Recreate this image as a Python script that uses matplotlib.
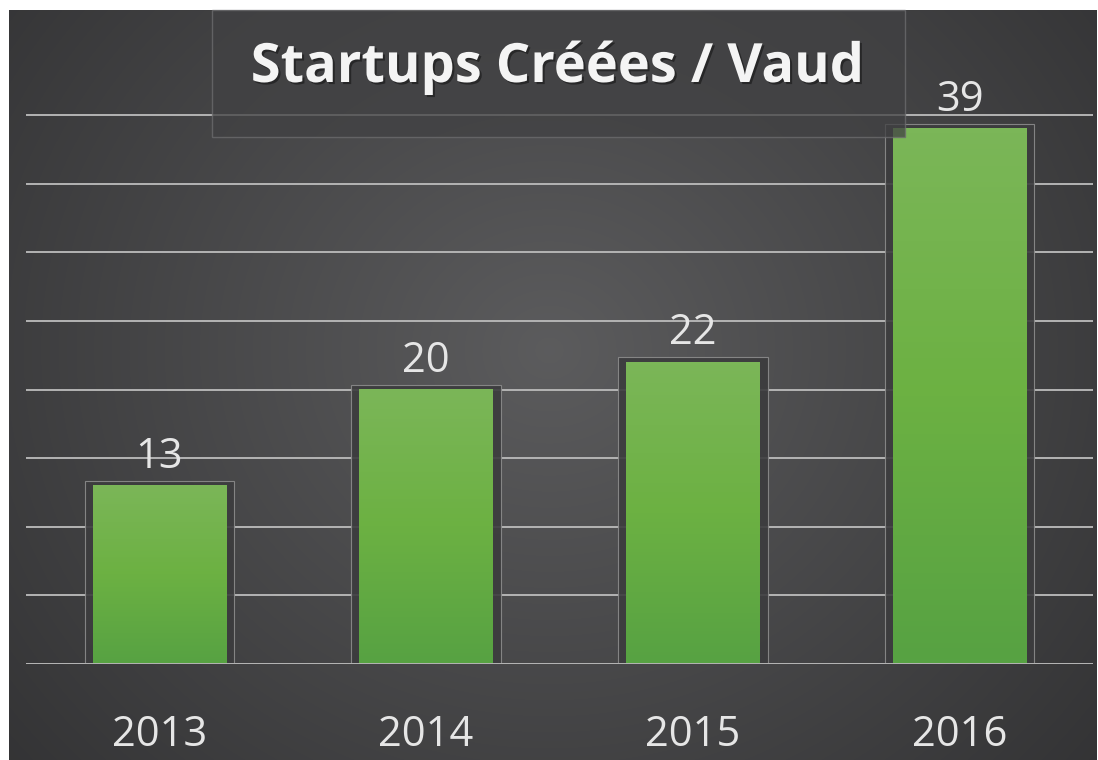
import matplotlib.pyplot as plt
import matplotlib.patheffects as pe
import numpy as np
from matplotlib.patches import Rectangle

years = ["2013", "2014", "2015", "2016"]
startups = [13, 20, 22, 39]
title = "Startups Créées / Vaud"

W, H = 1098, 760
plt.rcParams["font.family"] = ["Open Sans", "DejaVu Sans"]

fig = plt.figure(figsize=(W / 100, H / 100), dpi=100, facecolor="white")

# radial dark background
bg = fig.add_axes([9 / W, 0, 1 - 10 / W, 1 - 10 / H], zorder=0)
yy, xx = np.mgrid[0:750, 0:1088]
r = np.hypot(xx - 540, (yy - 340) * 1.1) / 720
shade = np.clip(0.36 - 0.16 * r, 0.2, 0.4)
bg.imshow(np.dstack([shade, shade, shade + 0.006]), aspect="auto", interpolation="bilinear")
bg.axis("off")

ax = fig.add_axes([26 / W, 96 / H, (1093 - 26) / W, (664 - 10) / H], zorder=1)
ax.patch.set_alpha(0)
for s in ax.spines.values():
    s.set_visible(False)
ax.set_xticks([])
ax.set_yticks(np.arange(0, 45, 5))
ax.tick_params(left=False, labelleft=False)
ax.grid(axis="y", color="#b4b4b4", lw=1.4, zorder=0)
ax.set_axisbelow(True)

grad = np.linspace(0, 1, 100)[:, None]
green = plt.matplotlib.colors.LinearSegmentedColormap.from_list("g", ["#57a243", "#6cb142", "#7bb658"])
pad = 8 / 266.7
for i, v in enumerate(startups):
    ax.add_patch(Rectangle((i - 0.25 - pad, 0), 0.5 + 2 * pad, v + 0.36,
                           facecolor="#3c3c3e", edgecolor="#8c8c8c", lw=0.8, alpha=0.9, zorder=2))
    ax.imshow(grad, cmap=green, origin="lower", extent=(i - 0.25, i + 0.25, 0, v),
              aspect="auto", zorder=3)
    ax.annotate(str(v), (i, v), xytext=(0, 13), textcoords="offset points",
                ha="center", va="baseline", fontsize=30, color="#e6e6e6", zorder=4)
    fig.text((26 + (i + 0.5) * 266.7) / W, 1 - 746 / H, years[i], ha="center", va="baseline",
             fontsize=30, color="#e6e6e6")
ax.axhline(0, color="#b4b4b4", lw=1.4, zorder=4)
ax.set_xlim(-0.5, 3.5)
ax.set_ylim(0, 654 / 13.72)

# title box
fig.patches.append(Rectangle((212 / W, 1 - 137 / H), (905 - 212) / W, (137 - 10) / H,
                             transform=fig.transFigure, facecolor="#414143", alpha=0.75,
                             edgecolor="#6e6e70", lw=1, zorder=5))
fig.text(557 / W, 1 - 82 / H, title, ha="center", va="baseline", fontsize=39,
         fontweight="bold", color="#f4f4f4", zorder=6,
         path_effects=[pe.withSimplePatchShadow(offset=(1.5, -1.5), shadow_rgbFace="black", alpha=0.4)])

fig.savefig("out.png", dpi=100, facecolor="white")
